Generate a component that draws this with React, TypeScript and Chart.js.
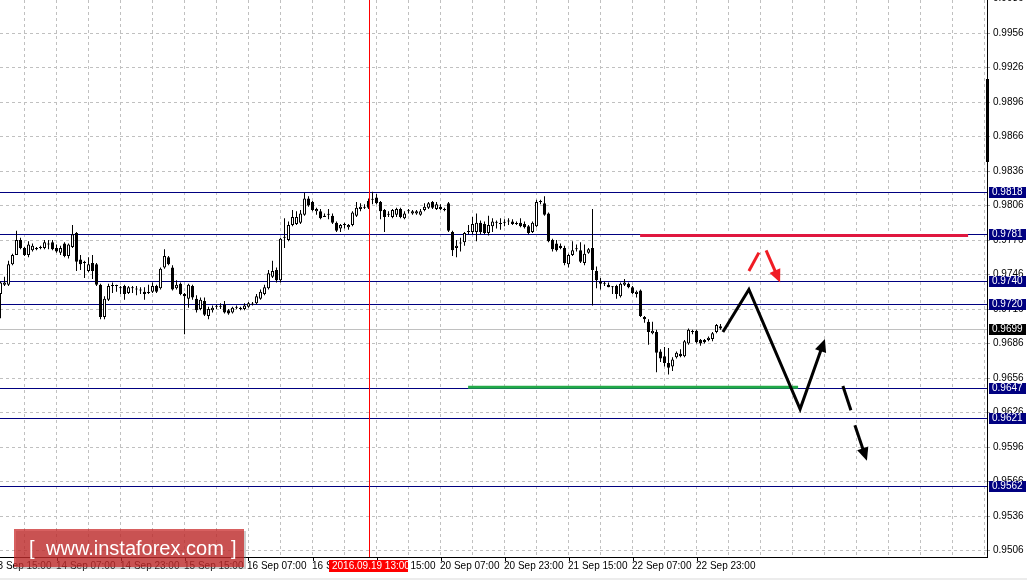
import React, { useEffect, useRef } from 'react';
import { Chart, registerables } from 'chart.js';

Chart.register(...registerables);

// ---- Candle data (H1, USD/CHF) ----
const opens = [
  0.9729,0.9737,0.9737,0.9755,0.9763,0.9776,0.9769,0.9763,0.9767,0.9769,
  0.9769,0.9769,0.9772,0.9774,0.9769,0.9765,0.9773,0.9762,0.9770,0.9782,
  0.9759,0.9757,0.9749,0.9756,0.9755,0.9737,0.9709,0.9724,0.9736,0.9736,
  0.9735,0.9736,0.9730,0.9734,0.9733,0.9733,0.9731,0.9730,0.9731,0.9736,
  0.9734,0.9752,0.9761,0.9752,0.9734,0.9738,0.9729,0.9725,0.9736,0.9725,
  0.9716,0.9723,0.9710,0.9715,0.9718,0.9718,0.9720,0.9715,0.9713,0.9717,
  0.9717,0.9716,0.9718,0.9720,0.9721,0.9725,0.9729,0.9734,0.9744,0.9750,
  0.9741,0.9778,0.9776,0.9789,0.9790,0.9791,0.9798,0.9812,0.9809,0.9801,
  0.9801,0.9797,0.9798,0.9797,0.9791,0.9786,0.9789,0.9787,0.9789,0.9797,
  0.9803,0.9804,0.9810,0.9811,0.9813,0.9809,0.9802,0.9798,0.9796,0.9798,
  0.9803,0.9795,0.9801,0.9799,0.9799,0.9798,0.9802,0.9804,0.9809,0.9803,
  0.9805,0.9803,0.9808,0.9783,0.9769,0.9773,0.9774,0.9783,0.9783,0.9783,
  0.9791,0.9790,0.9782,0.9788,0.9791,0.9790,0.9791,0.9792,0.9792,0.9790,
  0.9791,0.9790,0.9788,0.9783,0.9788,0.9809,0.9808,0.9799,0.9776,0.9773,
  0.9771,0.9769,0.9755,0.9763,0.9768,0.9767,0.9756,0.9765,0.9769,0.9749,
  0.9740,0.9738,0.9737,0.9735,0.9736,0.9727,0.9737,0.9738,0.9735,0.9729,
  0.9732,0.9709,0.9705,0.9695,0.9696,0.9679,0.9675,0.9669,0.9666,0.9674,
  0.9677,0.9675,0.9686,0.9696,0.9697,0.9689,0.9689,0.9689,0.9690,0.9696,
  0.9701,
];
const highs = [
  0.9740,0.9744,0.9758,0.9764,0.9784,0.9778,0.9770,0.9775,0.9773,0.9770,
  0.9771,0.9776,0.9776,0.9776,0.9772,0.9771,0.9774,0.9773,0.9789,0.9783,
  0.9763,0.9758,0.9761,0.9763,0.9756,0.9738,0.9727,0.9738,0.9739,0.9737,
  0.9736,0.9737,0.9736,0.9736,0.9736,0.9735,0.9735,0.9737,0.9739,0.9737,
  0.9752,0.9768,0.9762,0.9754,0.9741,0.9739,0.9730,0.9738,0.9737,0.9728,
  0.9726,0.9726,0.9718,0.9719,0.9720,0.9721,0.9723,0.9716,0.9718,0.9719,
  0.9718,0.9721,0.9722,0.9722,0.9729,0.9733,0.9737,0.9750,0.9758,0.9752,
  0.9778,0.9795,0.9792,0.9802,0.9801,0.9802,0.9817,0.9814,0.9810,0.9804,
  0.9803,0.9799,0.9803,0.9799,0.9792,0.9790,0.9791,0.9790,0.9801,0.9809,
  0.9808,0.9807,0.9812,0.9818,0.9816,0.9810,0.9803,0.9801,0.9803,0.9804,
  0.9804,0.9801,0.9803,0.9802,0.9802,0.9803,0.9808,0.9809,0.9810,0.9809,
  0.9807,0.9804,0.9809,0.9784,0.9776,0.9778,0.9783,0.9789,0.9796,0.9799,
  0.9793,0.9792,0.9797,0.9795,0.9793,0.9795,0.9794,0.9795,0.9794,0.9792,
  0.9795,0.9792,0.9789,0.9792,0.9811,0.9811,0.9814,0.9800,0.9777,0.9776,
  0.9773,0.9771,0.9764,0.9775,0.9772,0.9774,0.9772,0.9769,0.9803,0.9753,
  0.9743,0.9740,0.9739,0.9736,0.9737,0.9739,0.9742,0.9739,0.9736,0.9732,
  0.9733,0.9710,0.9707,0.9705,0.9698,0.9681,0.9683,0.9682,0.9674,0.9679,
  0.9681,0.9689,0.9699,0.9698,0.9698,0.9690,0.9690,0.9692,0.9696,0.9703,
  0.9703,
];
const lows = [
  0.9708,0.9736,0.9736,0.9754,0.9763,0.9768,0.9762,0.9761,0.9766,0.9767,
  0.9768,0.9768,0.9768,0.9767,0.9765,0.9763,0.9761,0.9760,0.9769,0.9749,
  0.9750,0.9743,0.9748,0.9742,0.9736,0.9707,0.9707,0.9723,0.9730,0.9731,
  0.9729,0.9724,0.9729,0.9730,0.9728,0.9729,0.9724,0.9729,0.9730,0.9730,
  0.9733,0.9751,0.9754,0.9732,0.9733,0.9728,0.9694,0.9717,0.9724,0.9713,
  0.9715,0.9710,0.9707,0.9713,0.9716,0.9716,0.9712,0.9711,0.9712,0.9716,
  0.9715,0.9715,0.9717,0.9719,0.9720,0.9724,0.9728,0.9733,0.9743,0.9739,
  0.9739,0.9769,0.9775,0.9788,0.9789,0.9790,0.9797,0.9805,0.9801,0.9798,
  0.9794,0.9796,0.9794,0.9790,0.9783,0.9783,0.9786,0.9785,0.9788,0.9796,
  0.9801,0.9803,0.9803,0.9807,0.9807,0.9794,0.9783,0.9796,0.9795,0.9796,
  0.9795,0.9794,0.9799,0.9798,0.9798,0.9797,0.9801,0.9803,0.9803,0.9802,
  0.9802,0.9801,0.9783,0.9762,0.9761,0.9766,0.9771,0.9781,0.9781,0.9775,
  0.9781,0.9781,0.9780,0.9783,0.9786,0.9785,0.9788,0.9789,0.9789,0.9789,
  0.9787,0.9786,0.9781,0.9782,0.9787,0.9807,0.9797,0.9774,0.9766,0.9766,
  0.9768,0.9754,0.9752,0.9762,0.9766,0.9756,0.9754,0.9764,0.9719,0.9734,
  0.9733,0.9736,0.9735,0.9729,0.9725,0.9726,0.9736,0.9734,0.9729,0.9726,
  0.9709,0.9704,0.9685,0.9694,0.9661,0.9670,0.9666,0.9659,0.9662,0.9673,
  0.9674,0.9674,0.9685,0.9694,0.9686,0.9684,0.9686,0.9688,0.9688,0.9695,
  0.9698,
];
const closes = [
  0.9739,0.9739,0.9755,0.9763,0.9776,0.9769,0.9763,0.9772,0.9771,0.9768,
  0.9769,0.9774,0.9772,0.9768,0.9766,0.9769,0.9762,0.9772,0.9781,0.9757,
  0.9755,0.9756,0.9755,0.9749,0.9737,0.9709,0.9725,0.9736,0.9736,0.9736,
  0.9734,0.9729,0.9735,0.9734,0.9733,0.9732,0.9729,0.9730,0.9736,0.9731,
  0.9751,0.9762,0.9755,0.9733,0.9737,0.9729,0.9727,0.9737,0.9726,0.9715,
  0.9724,0.9711,0.9716,0.9717,0.9718,0.9718,0.9713,0.9712,0.9717,0.9717,
  0.9716,0.9719,0.9721,0.9720,0.9727,0.9731,0.9735,0.9747,0.9749,0.9741,
  0.9777,0.9778,0.9789,0.9796,0.9796,0.9799,0.9812,0.9806,0.9802,0.9803,
  0.9795,0.9796,0.9798,0.9791,0.9784,0.9789,0.9789,0.9789,0.9800,0.9804,
  0.9805,0.9804,0.9804,0.9811,0.9808,0.9801,0.9796,0.9798,0.9802,0.9803,
  0.9796,0.9799,0.9801,0.9801,0.9801,0.9801,0.9805,0.9808,0.9804,0.9807,
  0.9803,0.9802,0.9784,0.9767,0.9771,0.9773,0.9782,0.9783,0.9790,0.9791,
  0.9783,0.9782,0.9789,0.9792,0.9791,0.9790,0.9791,0.9792,0.9790,0.9790,
  0.9788,0.9787,0.9782,0.9791,0.9809,0.9809,0.9798,0.9775,0.9768,0.9767,
  0.9769,0.9756,0.9763,0.9767,0.9768,0.9757,0.9764,0.9768,0.9750,0.9741,
  0.9738,0.9738,0.9735,0.9735,0.9729,0.9738,0.9739,0.9735,0.9730,0.9731,
  0.9710,0.9707,0.9696,0.9697,0.9678,0.9673,0.9669,0.9665,0.9672,0.9678,
  0.9675,0.9688,0.9698,0.9696,0.9687,0.9686,0.9687,0.9691,0.9695,0.9702,
  0.9699,
];

// ---- Axes ----
const yTicks = [0.9506, 0.9536, 0.9566, 0.9596, 0.9626, 0.9656, 0.9686, 0.9716, 0.9746,
  0.9776, 0.9806, 0.9836, 0.9866, 0.9896, 0.9926, 0.9956, 0.9986];
const xLabelIndex = [-2, 14, 30, 46, 62, 78, 94, 110, 126, 142, 158, 174];
const xLabels = ['13 Sep 15:00', '14 Sep 07:00', '14 Sep 23:00', '15 Sep 15:00', '16 Sep 07:00',
  '16 Sep 23:00', '19 Sep 15:00', '20 Sep 07:00', '20 Sep 23:00', '21 Sep 15:00',
  '22 Sep 07:00', '22 Sep 23:00'];
const Y_MIN = 0.950035;
const Y_MAX = 0.99847;
const X_MIN = -0.125;
const X_MAX = 246.625;

// ---- Levels / annotations (data coordinates: candle index, price) ----
const levelPrices = [0.9818, 0.9781, 0.9740, 0.9720, 0.9647, 0.9621, 0.9562];
const bidPrice = 0.9699;
const cursorIndex = 92;
const cursorLabel = '2016.09.19 13:00';
const greenLine = [[116.9, 0.9648], [199.4, 0.9648]];
const redLine = [[159.9, 0.9780], [241.9, 0.9780]];
const forecastMain = [[180.6, 0.9696], [187.1, 0.9733], [199.9, 0.9629], [206.1, 0.9690]];
const forecastDashA = [[210.6, 0.9649], [212.6, 0.9628]];
const forecastDashB = [[213.6, 0.9615], [216.6, 0.9584]];
const redStrokeA = [[187.1, 0.9749], [189.6, 0.9765]];
const redStrokeB = [[191.4, 0.9767], [194.9, 0.9739]];

const FONT = "'Liberation Sans', Arial, sans-serif";

export default function App() {
  const ref = useRef<HTMLCanvasElement>(null);

  useEffect(() => {
    document.body.style.margin = '0';
    const canvas = ref.current;
    if (!canvas) return;
    const idx = opens.map((_, i) => i);

    const toPx = (chart: any, pts: number[][]) =>
      pts.map(([i, p]) => [chart.scales.x.getPixelForValue(i), chart.scales.y.getPixelForValue(p)]);

    const drawPath = (ctx: CanvasRenderingContext2D, pts: number[][], color: string, width: number, head: number) => {
      ctx.save();
      ctx.strokeStyle = color;
      ctx.fillStyle = color;
      ctx.lineWidth = width;
      ctx.lineJoin = 'miter';
      ctx.lineCap = 'butt';
      const n = pts.length;
      const [tx, ty] = pts[n - 1];
      const [fx, fy] = pts[n - 2];
      const ang = Math.atan2(ty - fy, tx - fx);
      ctx.beginPath();
      ctx.moveTo(pts[0][0], pts[0][1]);
      for (let k = 1; k < n - 1; k++) ctx.lineTo(pts[k][0], pts[k][1]);
      if (head > 0) ctx.lineTo(tx - Math.cos(ang) * head * 0.6, ty - Math.sin(ang) * head * 0.6);
      else ctx.lineTo(tx, ty);
      ctx.stroke();
      if (head > 0) {
        const bx = tx - Math.cos(ang) * head;
        const by = ty - Math.sin(ang) * head;
        const hw = head * 0.45;
        ctx.beginPath();
        ctx.moveTo(tx, ty);
        ctx.lineTo(bx + Math.sin(ang) * hw, by - Math.cos(ang) * hw);
        ctx.lineTo(bx - Math.sin(ang) * hw, by + Math.cos(ang) * hw);
        ctx.closePath();
        ctx.fill();
      }
      ctx.restore();
    };

    const overlay = {
      id: 'mt4Overlay',
      beforeDraw(chart: any) {
        const ctx = chart.ctx as CanvasRenderingContext2D;
        ctx.save();
        ctx.fillStyle = '#ffffff';
        ctx.fillRect(0, 0, chart.width, chart.height);
        ctx.fillStyle = '#ececec';
        ctx.fillRect(0, chart.height - 2, chart.width, 2);
        ctx.restore();
      },
      beforeDatasetsDraw(chart: any) {
        const ctx = chart.ctx as CanvasRenderingContext2D;
        const { left, right } = chart.chartArea;
        const ys = chart.scales.y;
        ctx.save();
        ctx.fillStyle = '#c0c0c0';
        let y = Math.round(ys.getPixelForValue(bidPrice));
        ctx.fillRect(left, y, right - left, 1);
        ctx.fillStyle = '#000080';
        levelPrices.forEach((p) => {
          y = Math.round(ys.getPixelForValue(p));
          ctx.fillRect(left, y, right - left, 1);
        });
        ctx.restore();
      },
      afterDatasetsDraw(chart: any) {
        const ctx = chart.ctx as CanvasRenderingContext2D;
        const { top, bottom, right } = chart.chartArea;
        const xs = chart.scales.x;
        // cursor line
        const cx = Math.round(xs.getPixelForValue(cursorIndex));
        ctx.save();
        ctx.fillStyle = '#ff0000';
        ctx.fillRect(cx, top, 1, bottom - top);
        ctx.restore();
        // horizontal marker lines
        drawPath(ctx, toPx(chart, greenLine), '#22aa48', 3, 0);
        drawPath(ctx, toPx(chart, redLine), '#e0173f', 3, 0);
        // forecast arrows
        drawPath(ctx, toPx(chart, forecastMain), '#000000', 3, 13);
        drawPath(ctx, toPx(chart, forecastDashA), '#000000', 3, 0);
        drawPath(ctx, toPx(chart, forecastDashB), '#000000', 3, 13);
        drawPath(ctx, toPx(chart, redStrokeA), '#f01c24', 3, 0);
        drawPath(ctx, toPx(chart, redStrokeB), '#f01c24', 3, 13);
        // chart shift marker on the price axis
        ctx.save();
        ctx.fillStyle = '#000';
        ctx.fillRect(right - 1, 79, 3, 83);
        ctx.restore();
      },
      afterDraw(chart: any) {
        const ctx = chart.ctx as CanvasRenderingContext2D;
        const { bottom, right } = chart.chartArea;
        const xs = chart.scales.x;
        const ys = chart.scales.y;
        ctx.save();
        ctx.font = `10px ${FONT}`;
        ctx.textBaseline = 'middle';
        ctx.textAlign = 'left';
        // time labels
        xLabelIndex.forEach((i, k) => {
          const x = Math.round(xs.getPixelForValue(i));
          ctx.fillStyle = '#000';
          ctx.fillRect(x, bottom, 1, 4);
          ctx.fillText(xLabels[k], x - 1, bottom + 9.5);
        });
        // cursor time label
        const cx = Math.round(xs.getPixelForValue(cursorIndex));
        ctx.fillStyle = '#ff0000';
        ctx.fillRect(cx - 40, bottom + 3, 79, 12);
        ctx.fillStyle = '#ffffff';
        ctx.fillText(cursorLabel, cx - 37, bottom + 9.5);
        // level price boxes
        levelPrices.forEach((p) => {
          const y = Math.round(ys.getPixelForValue(p));
          ctx.fillStyle = '#000080';
          ctx.fillRect(right + 2, y - 5, 37, 11);
          ctx.fillStyle = '#ffffff';
          ctx.fillText(p.toFixed(4), right + 5, y + 0.5);
        });
        const by = Math.round(ys.getPixelForValue(bidPrice));
        ctx.fillStyle = '#000000';
        ctx.fillRect(right + 2, by - 5, 37, 11);
        ctx.fillStyle = '#ffffff';
        ctx.fillText(bidPrice.toFixed(4), right + 5, by + 0.5);
        // watermark
        ctx.fillStyle = 'rgba(110,110,110,0.35)';
        ctx.fillRect(16, 531, 230, 38);
        ctx.fillStyle = 'rgba(200,35,35,0.72)';
        ctx.fillRect(14, 529, 230, 38);
        ctx.fillStyle = '#ffffff';
        ctx.font = `20px ${FONT}`;
        ctx.fillText('[', 29, 549);
        ctx.fillText('www.instaforex.com', 46, 549);
        ctx.fillText(']', 231, 549);
        ctx.restore();
      },
    };

    const chart = new Chart(canvas, {
      type: 'bar',
      data: {
        datasets: [
          {
            label: 'wicks',
            data: idx.map((i) => ({ x: i, y: [lows[i], highs[i]] })) as any,
            backgroundColor: '#000000',
            borderWidth: 0,
            barThickness: 1,
            grouped: false,
            inflateAmount: 0,
            order: 2,
          } as any,
          {
            label: 'bodies',
            data: idx.map((i) => ({ x: i, y: [opens[i], closes[i]] })) as any,
            backgroundColor: idx.map((i) => (closes[i] >= opens[i] ? '#ffffff' : '#000000')),
            borderColor: '#000000',
            borderWidth: 1,
            borderSkipped: false,
            barThickness: 3,
            minBarLength: 1,
            grouped: false,
            inflateAmount: 0,
            order: 1,
          } as any,
        ],
      },
      options: {
        responsive: false,
        animation: false,
        events: [],
        layout: { padding: 0 },
        plugins: { legend: { display: false }, tooltip: { enabled: false } },
        scales: {
          x: {
            type: 'linear',
            min: X_MIN,
            max: X_MAX,
            offset: false,
            afterBuildTicks: (s: any) => {
              const t = [];
              for (let v = 6; v <= X_MAX; v += 8) t.push({ value: v });
              s.ticks = t;
            },
            afterFit: (s: any) => {
              s.height = 23;
              s.paddingLeft = 0;
              s.paddingRight = 0;
            },
            ticks: { display: false },
            grid: { color: '#c0c0c0', lineWidth: 1, drawTicks: false, offset: false },
            border: { display: true, color: '#000000', width: 1, dash: [3, 3] },
          },
          y: {
            type: 'linear',
            position: 'right',
            min: Y_MIN,
            max: Y_MAX,
            afterBuildTicks: (s: any) => {
              s.ticks = yTicks.map((v) => ({ value: v }));
            },
            afterFit: (s: any) => {
              s.width = 40;
              s.paddingTop = 0;
              s.paddingBottom = 0;
            },
            ticks: {
              autoSkip: false,
              color: '#000000',
              padding: 3,
              font: { family: FONT, size: 10 },
              callback: (v: any) => Number(v).toFixed(4),
            },
            grid: { color: '#c0c0c0', lineWidth: 1, drawTicks: true, tickLength: 3, tickColor: '#a0a0a0' },
            border: { display: true, color: '#000000', width: 1, dash: [3, 3] },
          },
        },
      } as any,
      plugins: [overlay],
    });

    return () => chart.destroy();
  }, []);

  return (
    <div style={{ position: 'absolute', left: 0, top: 0, width: 1027, height: 580, background: '#fff' }}>
      <canvas ref={ref} width={1027} height={580} style={{ display: 'block', width: 1027, height: 580 }} />
    </div>
  );
}
